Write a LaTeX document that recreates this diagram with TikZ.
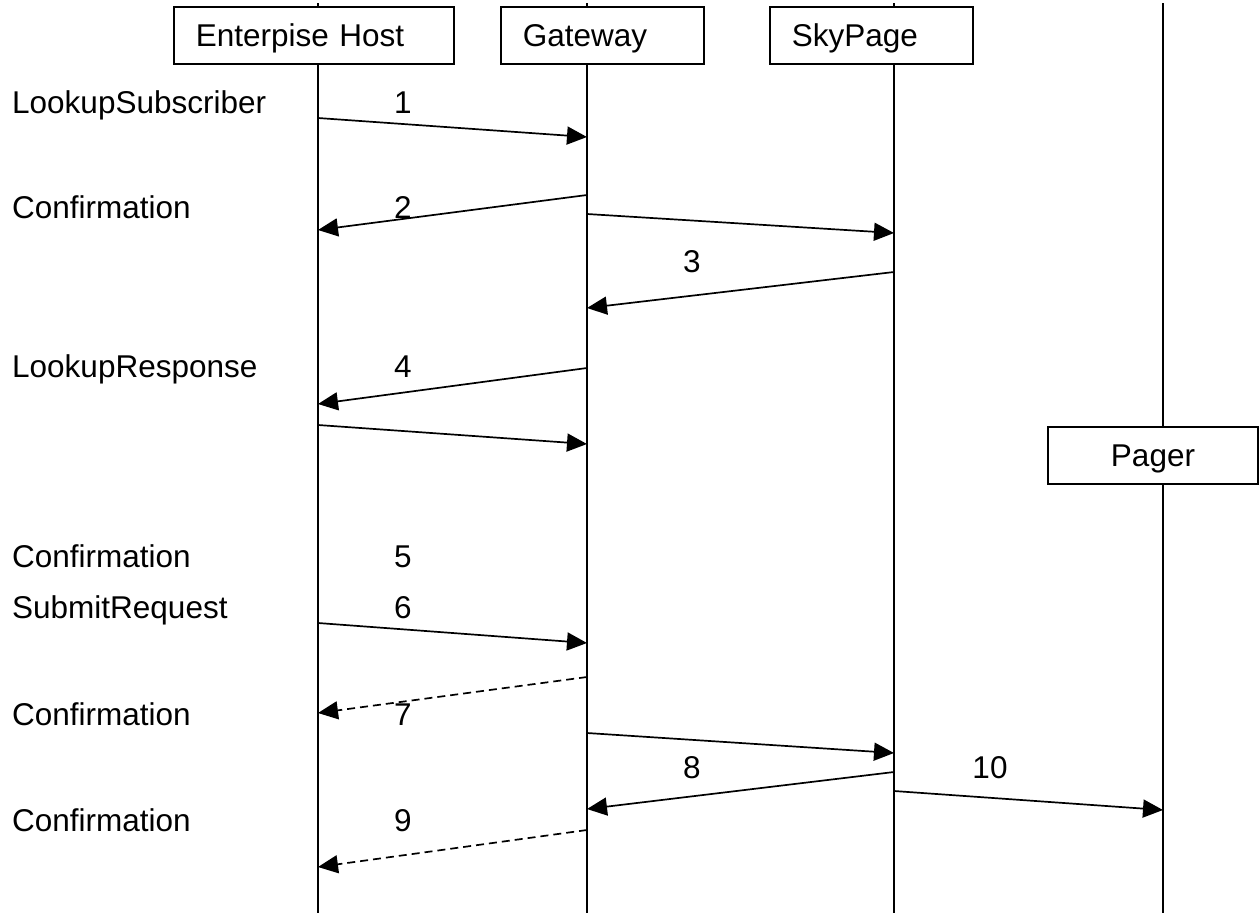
\documentclass[tikz,border=0pt]{standalone}
\usepackage{fontspec}
\setmainfont{Liberation Sans}
\usetikzlibrary{arrows.meta}
\begin{document}
\begin{tikzpicture}[x=1pt,y=-1pt,
  txt/.style={font=\fontsize{31.5}{36}\selectfont, inner sep=0pt},
  lbl/.style={txt, anchor=base west},
  num/.style={txt, anchor=base},
  actor/.style={draw, line width=1.8pt, fill=white, txt, minimum height=57pt,
    text height=29pt, text depth=7pt, anchor=north west},
  leftactor/.style={actor, inner xsep=22pt, text width=#1-44pt, align=left, minimum width=#1},
  lifeline/.style={line width=1.8pt},
  msg/.style={line width=1.7pt, -{Triangle[length=20pt,width=18pt]}},
  reply/.style={msg, dash pattern=on 8pt off 5pt}]
\useasboundingbox (0,0) rectangle (1259,913);
% lifelines
\coordinate (eT) at (318,3);  \coordinate (eB) at (318,913);
\coordinate (gT) at (587,3);  \coordinate (gB) at (587,913);
\coordinate (sT) at (894,3);  \coordinate (sB) at (894,913);
\coordinate (pT) at (1163,3); \coordinate (pB) at (1163,913);
\draw[lifeline] (eT) -- (eB);
\draw[lifeline] (gT) -- (gB);
\draw[lifeline] (sT) -- (sB);
\draw[lifeline] (pT) -- (pB);
% actor boxes
\node[leftactor=280pt] (host) at (173,6) {Enterpise Host};
\node[leftactor=203pt] (gw) at (500,6) {Gateway};
\node[leftactor=203pt] (sky) at (769,6) {SkyPage};
\node[actor, minimum width=210pt, anchor=north] (pager) at (1153,426) {Pager};
% left labels
\node[lbl] (l1) at (12,113) {LookupSubscriber};
\node[lbl] (l2) at (12,218) {Confirmation};
\node[lbl] (l3) at (12,377) {LookupResponse};
\node[lbl] (l4) at (12,567) {Confirmation};
\node[lbl] (l5) at (12,618) {SubmitRequest};
\node[lbl] (l6) at (12,725) {Confirmation};
\node[lbl] (l7) at (12,831) {Confirmation};
% numbers
\node[num] (n1) at (403,113) {1};
\node[num] (n2) at (403,218) {2};
\node[num] (n3) at (692,272) {3};
\node[num] (n4) at (403,377) {4};
\node[num] (n5) at (403,567) {5};
\node[num] (n6) at (403,618) {6};
\node[num] (n7) at (403,725) {7};
\node[num] (n8) at (692,778) {8};
\node[num] (n9) at (403,831) {9};
\node[num] (n10) at (990,778) {10};
% message end points
\coordinate (a1) at (318,118);  \coordinate (b1) at (587,137);
\coordinate (a2) at (587,195);  \coordinate (b2) at (318,230);
\coordinate (a2s) at (587,214); \coordinate (b2s) at (894,233);
\coordinate (a3) at (894,272);  \coordinate (b3) at (587,308);
\coordinate (a4) at (587,368);  \coordinate (b4) at (318,404);
\coordinate (a4s) at (318,425); \coordinate (b4s) at (587,444);
\coordinate (a6) at (318,623);  \coordinate (b6) at (587,643);
\coordinate (a7) at (587,677);  \coordinate (b7) at (318,713);
\coordinate (a8s) at (587,733); \coordinate (b8s) at (894,753);
\coordinate (a8) at (894,772);  \coordinate (b8) at (587,809);
\coordinate (a10) at (894,791); \coordinate (b10) at (1163,810);
\coordinate (a9) at (587,830);  \coordinate (b9) at (318,867);
% messages
\draw[msg] (a1) -- (b1);
\draw[msg] (a2) -- (b2);
\draw[msg] (a2s) -- (b2s);
\draw[msg] (a3) -- (b3);
\draw[msg] (a4) -- (b4);
\draw[msg] (a4s) -- (b4s);
\draw[msg] (a6) -- (b6);
\draw[reply] (a7) -- (b7);
\draw[msg] (a8s) -- (b8s);
\draw[msg] (a8) -- (b8);
\draw[msg] (a10) -- (b10);
\draw[reply] (a9) -- (b9);
\end{tikzpicture}
\end{document}
